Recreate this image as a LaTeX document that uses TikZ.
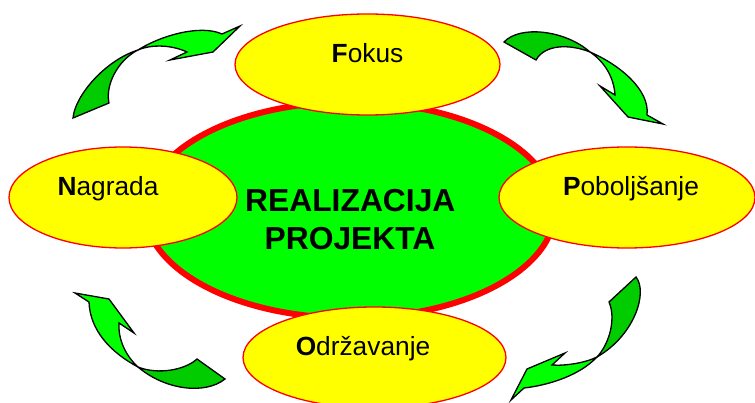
\documentclass[tikz,border=0pt]{standalone}
\usepackage{fontspec}
\setmainfont{Liberation Sans}
\usepackage{tikz}
\usetikzlibrary{positioning, shapes.geometric}
\usepackage{xcolor}
\definecolor{brightgreen}{RGB}{0,255,0}
\definecolor{backgreen}{RGB}{0,204,0}
\definecolor{petalyellow}{RGB}{255,255,0}
\definecolor{petalred}{RGB}{255,0,0}
\tikzset{
  hub/.style={ellipse, draw=petalred, line width=6pt, fill=brightgreen, inner sep=0pt},
  petal/.style={ellipse, draw=petalred, line width=1.3pt, fill=petalyellow, inner sep=0pt, minimum height=101pt},
  lbl/.style={anchor=base, inner sep=0pt, font=\fontsize{26.3}{31}\selectfont},
  hublbl/.style={anchor=base, inner sep=0pt, font=\fontsize{31.8}{38}\selectfont\bfseries},
  frontpart/.style={fill=brightgreen, draw=black, line width=1.3pt},
  backpart/.style={fill=backgreen, draw=black, line width=1.3pt}
}

\begin{document}
\begin{tikzpicture}[x=1pt, y=-1pt]
            \useasboundingbox (0,0) rectangle (755,403);

            \node[hub, minimum width=410pt, minimum height=216pt] (hub) at (350,210) {};

            \node[petal, minimum width=265pt] (fokus) at (367.5,64.5) {};
            \node[petal, minimum width=228pt] (nagrada) at (123,197.5) {};
            \node[petal, minimum width=256pt] (poboljsanje) at (627,197.5) {};
            \node[petal, minimum width=263pt] (odrzavanje) at (374.5,357.5) {};

            \node[lbl] (fokuslbl) at (367.5,62.3) {\textbf{F}okus};
            \node[lbl] (nagradalbl) at (108,195.7) {\textbf{N}agrada};
            \node[lbl] (poboljsanjelbl) at (631,195.7) {\textbf{P}oboljšanje};
            \node[lbl] (odrzavanjelbl) at (363,355.7) {\textbf{O}državanje};

            \node[hublbl] (hubtop) at (350.3,211.7) {REALIZACIJA};
            \node[hublbl] (hubbottom) at (350,249.3) {PROJEKTA};

            \coordinate (JA) at (138,50);
            \draw[backpart] (73,118) .. controls (75,95) and (106,60) .. (JA)
                .. controls (118,60) and (105,85) .. (109,103) -- cycle;
            \draw[frontpart] (JA) .. controls (160,36) and (200,24) .. (222,34)
                -- (240,26) -- (213,52) -- (170,60) -- (187,52)
                .. controls (172,45) and (152,44) .. (JA) -- cycle;

            \coordinate (JB) at (590,52);
            \draw[backpart] (504,42) .. controls (520,25) and (565,30) .. (JB)
                .. controls (570,44) and (545,44) .. (536,60) -- cycle;
            \draw[frontpart] (JB) .. controls (620,65) and (650,90) .. (647,115)
                -- (663,124) -- (628,117) -- (600,86) -- (615,95)
                .. controls (614,78) and (605,62) .. (JB) -- cycle;

            \coordinate (JC) at (138,367);
            \draw[backpart] (JC) .. controls (158,375) and (185,370) .. (197,359)
                -- (225,379) .. controls (205,395) and (165,390) .. (JC) -- cycle;
            \draw[frontpart] (JC) .. controls (110,352) and (90,330) .. (89,302)
                -- (75,293) -- (109,299) -- (134,333) -- (119,323)
                .. controls (118,340) and (126,356) .. (JC) -- cycle;

            \coordinate (JD) at (597,357);
            \draw[backpart] (636,277) .. controls (648,292) and (635,335) .. (JD)
                .. controls (610,343) and (616,318) .. (609,302) -- cycle;
            \draw[frontpart] (JD) .. controls (580,375) and (550,385) .. (524,388)
                -- (511,400) -- (527,369) -- (565,353) -- (552,365)
                .. controls (565,366) and (585,363) .. (JD) -- cycle;
        \end{tikzpicture}
\end{document}
